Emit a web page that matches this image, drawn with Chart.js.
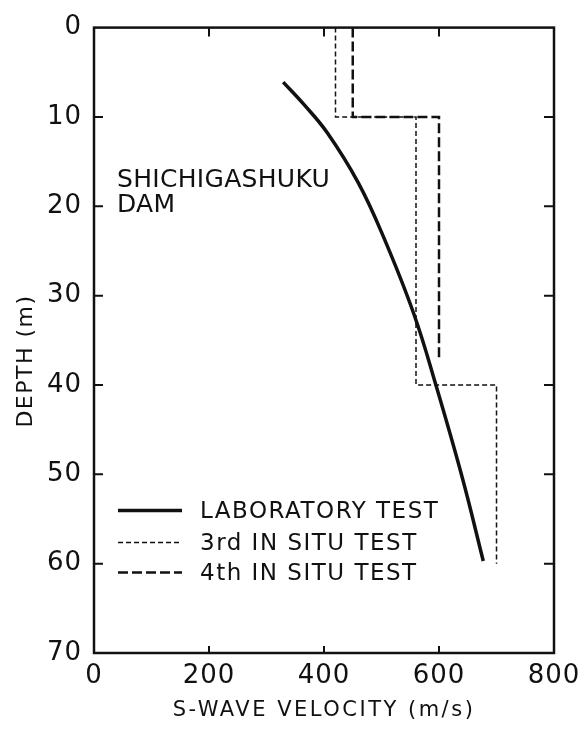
<!DOCTYPE html>
<html>
<head>
<meta charset="utf-8">
<script src="https://cdn.jsdelivr.net/npm/chart.js@4.4.0/dist/chart.umd.min.js"></script>
<style>
html,body{margin:0;padding:0;background:#fff;}
canvas{display:block;}
</style>
</head>
<body>
<canvas id="c" width="587" height="731"></canvas>
<script>
// ---- data ----
const velocityTicks = [0, 200, 400, 600, 800];
const depthTicks = [0, 10, 20, 30, 40, 50, 60, 70];

const labVelocity = [329, 365, 406, 459, 502, 556, 595, 641, 677];
const labDepth    = [6.1, 8.6, 11.8, 17.3, 23.2, 32.0, 40.1, 50.5, 59.7];

const insitu3Velocity = [420, 420, 560, 560, 700, 700];
const insitu3Depth    = [0, 10, 10, 40, 40, 60];

const insitu4Velocity = [450, 450, 600, 600];
const insitu4Depth    = [0, 10, 10, 37.3];

const seriesNames = ['LABORATORY TEST', '3rd IN SITU TEST', '4th IN SITU TEST'];
const siteLabel = ['SHICHIGASHUKU', 'DAM'];
const xTitle = 'S-WAVE VELOCITY (m/s)';
const yTitle = 'DEPTH (m)';

const FONT = '"DejaVu Sans", "Liberation Sans", sans-serif';
const INK = '#111';

function pts(xs, ys) { return xs.map((v, i) => ({x: v, y: ys[i]})); }

const decorPlugin = {
  id: 'decor',
  beforeDraw(chart) {
    const ctx = chart.ctx;
    ctx.save();
    ctx.fillStyle = '#fff';
    ctx.fillRect(0, 0, chart.width, chart.height);
    ctx.restore();
    ctx.letterSpacing = '1px';
  },
  afterDraw(chart) {
    const {ctx, chartArea: a, scales: {x, y}} = chart;
    ctx.save();
    ctx.letterSpacing = '0px';
    // frame
    ctx.strokeStyle = INK;
    ctx.lineWidth = 2.5;
    ctx.strokeRect(a.left, a.top, a.right - a.left, a.bottom - a.top);
    // inward ticks
    ctx.lineWidth = 2;
    ctx.beginPath();
    x.ticks.forEach(t => {
      if (t.value <= x.min || t.value >= x.max) return;
      const px = x.getPixelForValue(t.value);
      ctx.moveTo(px, a.top); ctx.lineTo(px, a.top + 9);
      ctx.moveTo(px, a.bottom); ctx.lineTo(px, a.bottom - 7);
    });
    y.ticks.forEach(t => {
      if (t.value <= y.min || t.value >= y.max) return;
      const py = y.getPixelForValue(t.value);
      ctx.moveTo(a.left, py); ctx.lineTo(a.left + 9, py);
      ctx.moveTo(a.right, py); ctx.lineTo(a.right - 10, py);
    });
    ctx.stroke();

    // legend inside plot
    const rows = [a.top + 483, a.top + 515, a.top + 545];
    chart.data.datasets.forEach((ds, i) => {
      const ry = rows[i];
      ctx.save();
      ctx.strokeStyle = ds.borderColor;
      ctx.lineWidth = ds.borderWidth;
      ctx.setLineDash(ds.borderDash || []);
      ctx.beginPath();
      ctx.moveTo(a.left + 24, ry);
      ctx.lineTo(a.left + 88, ry);
      ctx.stroke();
      ctx.restore();
      ctx.fillStyle = INK;
      ctx.font = '23px ' + FONT;
      ctx.letterSpacing = '1.5px';
      ctx.textAlign = 'left';
      ctx.textBaseline = 'middle';
      ctx.fillText(ds.label, a.left + 106, ry + 1);
    });

    // site annotation
    ctx.font = '25px ' + FONT;
    ctx.letterSpacing = '0.3px';
    ctx.textAlign = 'left';
    ctx.textBaseline = 'alphabetic';
    ctx.fillStyle = INK;
    ctx.fillText(siteLabel[0], a.left + 23, 187);
    ctx.fillText(siteLabel[1], a.left + 23, 212);

    // axis titles
    ctx.font = '21px ' + FONT;
    ctx.letterSpacing = '2.5px';
    ctx.textAlign = 'center';
    ctx.textBaseline = 'middle';
    ctx.fillText(xTitle, (a.left + a.right) / 2, 711);
    ctx.save();
    ctx.translate(26, 361);
    ctx.rotate(-Math.PI / 2);
    ctx.font = '22px ' + FONT;
    ctx.letterSpacing = '1.5px';
    ctx.fillText(yTitle, 0, 0);
    ctx.restore();
    ctx.restore();
  }
};

new Chart(document.getElementById('c'), {
  type: 'scatter',
  data: {
    datasets: [
      {label: seriesNames[0], data: pts(labVelocity, labDepth), showLine: true,
       borderColor: INK, borderWidth: 3.5, pointRadius: 0, tension: 0.4},
      {label: seriesNames[1], data: pts(insitu3Velocity, insitu3Depth), showLine: true,
       borderColor: INK, borderWidth: 1.5, borderDash: [5, 3], pointRadius: 0, tension: 0},
      {label: seriesNames[2], data: pts(insitu4Velocity, insitu4Depth), showLine: true,
       borderColor: INK, borderWidth: 2.5, borderDash: [10, 4], pointRadius: 0, tension: 0}
    ]
  },
  options: {
    responsive: false,
    animation: false,
    devicePixelRatio: 1,
    layout: {padding: {top: 20, right: 33, left: 0, bottom: 0}},
    plugins: {legend: {display: false}, tooltip: {enabled: false}},
    scales: {
      x: {
        type: 'linear', position: 'bottom', min: 0, max: 800,
        afterBuildTicks(s) { s.ticks = velocityTicks.map(v => ({value: v})); },
        afterFit(s) { s.height = 78; },
        grid: {display: false, drawTicks: false},
        border: {display: false},
        ticks: {color: INK, font: {family: FONT, size: 26}, padding: 8, autoSkip: false, maxRotation: 0}
      },
      y: {
        type: 'linear', position: 'left', min: 0, max: 70, reverse: true,
        afterBuildTicks(s) { s.ticks = depthTicks.map(v => ({value: v})); },
        afterFit(s) { s.width = 94; },
        grid: {display: false, drawTicks: false},
        border: {display: false},
        ticks: {color: INK, font: {family: FONT, size: 26}, padding: 12, autoSkip: false}
      }
    }
  },
  plugins: [decorPlugin]
});
</script>
</body>
</html>
